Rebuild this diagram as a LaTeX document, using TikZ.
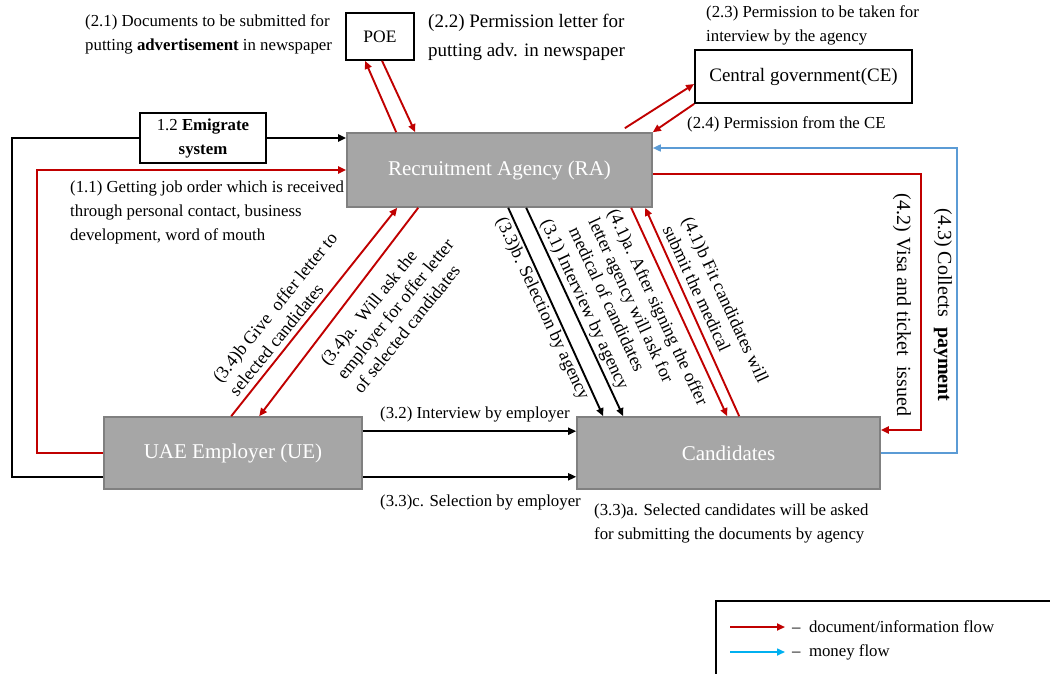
\documentclass[tikz,border=0pt]{standalone}
\usepackage{fontspec}
\setmainfont{Liberation Serif}
\usetikzlibrary{arrows.meta,calc}

\definecolor{docred}{HTML}{C00000}
\definecolor{cashblue}{HTML}{5B9BD5}
\definecolor{keyblue}{HTML}{00B0F0}
\definecolor{boxgrey}{HTML}{A6A6A6}

\begin{document}
\begin{tikzpicture}[
  x=1pt, y=-1pt,
  grey box/.style={
    draw=gray,
    fill=boxgrey,
    line width=1.6pt,
    text=white,
    font=\fontsize{21}{25}\selectfont,
    inner sep=0pt
  },
  white box/.style={
    draw,
    fill=white,
    line width=1.8pt,
    align=center,
    inner sep=0pt
  },
  note/.style={
    font=\fontsize{16.8}{24}\selectfont,
    inner sep=0pt
  },
  big note/.style={
    font=\fontsize{19}{29}\selectfont,
    inner sep=0pt
  },
  slant note/.style={
    font=\fontsize{18}{21.5}\selectfont,
    inner sep=0pt,
    align=left
  },
  side note/.style={
    font=\fontsize{20}{24}\selectfont,
    inner sep=0pt,
    rotate=-90
  },
  flow/.style={
    line width=1.9pt,
    -{Triangle[length=8pt,width=7pt]}
  },
  red flow/.style={flow, docred},
  money flow/.style={flow, cashblue, line width=1.6pt},
]
\useasboundingbox (0,0) rectangle (1050,673);

% boxes
\node[grey box, minimum width=305pt, minimum height=74pt] (ra) at (499.5,170) {Recruitment Agency (RA)};
\node[grey box, minimum width=258pt, minimum height=72pt] (ue) at (233,453) {UAE Employer (UE)};
\node[grey box, minimum width=303pt, minimum height=72pt] (cand) at (728.5,453) {Candidates};
\node[white box, minimum width=68pt, minimum height=47pt, font=\fontsize{17.5}{20}\selectfont] (poe) at (380,36.5) {POE};
\node[white box, minimum width=217pt, minimum height=53pt, font=\fontsize{19}{22}\selectfont] (ce) at (803.5,76.5) {Central government(CE)};
\node[white box, minimum width=126pt, minimum height=50pt, font=\fontsize{16.8}{24}\selectfont] (emig) at (203,138) {1.2 \textbf{Emigrate}\\\textbf{system}};

% emigrate route
\draw[line width=1.9pt] ([yshift=13pt]ue.south west) -- ++(-91,0) |- (emig.west);
\draw[flow] (emig.east) -- (emig.east -| ra.west);
\draw[red flow] (ue.west) -- ++(-66,0) |- (ra.west);

% POE and CE
\draw[red flow] ([xshift=50pt]ra.north west) -- ([xshift=20pt]poe.south west);
\draw[red flow] ([xshift=37pt]poe.south west) -- ([xshift=69pt]ra.north west);
\draw[red flow] ([xshift=-28pt,yshift=4pt]ra.north east) -- ([yshift=-7.5pt]ce.west);
\draw[red flow] (ce.south west) -- (ra.north east);

% agency <-> employer
\draw[red flow] ([xshift=128pt]ue.north west) -- ([xshift=51pt]ra.south west);
\draw[red flow] ([xshift=72pt]ra.south west) -- ([xshift=156pt]ue.north west);

% agency <-> candidates
\draw[flow] ([xshift=162pt]ra.south west) -- ([xshift=27pt]cand.north west);
\draw[flow] ([xshift=180pt]ra.south west) -- ([xshift=47pt]cand.north west);
\draw[red flow] ([xshift=285pt]ra.south west) -- ([xshift=151pt]cand.north west);
\draw[red flow] ([xshift=163pt]cand.north west) -- ([xshift=299pt]ra.south west);

% employer -> candidates
\draw[flow] ([yshift=-15pt]ue.north east) -- ([yshift=-15pt]ue.north east -| cand.west);
\draw[flow] ([yshift=13pt]ue.south east) -- ([yshift=13pt]ue.south east -| cand.west);

% visa and payment
\draw[red flow] ([yshift=-4pt]ra.east) -- ++(268,0) |- ([yshift=23pt]cand.east);
\draw[money flow] (cand.east) -- ++(76,0) |- ([yshift=22pt]ra.east);

% labels
\node[note, anchor=west, align=left] (t21) at (85,34) {(2.1) Documents to be submitted for\\putting \textbf{advertisement} in newspaper};
\node[big note, anchor=west, align=left] (t22) at (428,37) {(2.2) Permission letter for\\putting adv. in newspaper};
\node[note, anchor=west, align=left] (t23) at (706,25) {(2.3) Permission to be taken for\\interview by the agency};
\node[note, anchor=west] (t24) at (687,124) {(2.4) Permission from the CE};
\node[note, anchor=west, align=left] (t11) at (70,212) {(1.1) Getting job order which is received\\through personal contact, business\\development, word of mouth};
\node[slant note, rotate=51] (t34b) at (283,314) {(3.4)b Give\ \ offer letter to\\selected candidates};
\node[slant note, rotate=51] (t34a) at (395,309) {(3.4)a.\ \ Will ask the\\employer for offer letter\\of selected candidates};
\node[slant note, rotate=-65] (t33b) at (542,309) {(3.3)b. Selection by agency};
\node[slant note, rotate=-65] (t31) at (584,305) {(3.1) Interview by agency};
\node[slant note, rotate=-65] (t41a) at (639,316) {(4.1)a. After signing the offer\\letter agency will ask for\\medical of candidates};
\node[slant note, rotate=-65] (t41b) at (716,304) {(4.1)b Fit candidates will\\submit the medical};
\node[side note] (t42) at (902,305) {(4.2) Visa and ticket\ \ issued};
\node[side note] (t43) at (943,305) {(4.3) Collects\ \ \textbf{payment}};
\node[note, anchor=west] (t32) at (380,414) {(3.2) Interview by employer};
\node[note, anchor=west] (t33c) at (380,502) {(3.3)c. Selection by employer};
\node[note, anchor=west, align=left] (t33a) at (594,523) {(3.3)a. Selected candidates will be asked\\for submitting the documents by agency};

% key
\draw[line width=1.6pt] (716,601) rectangle (1080,700);
\coordinate (k1a) at (730,627);
\coordinate (k1b) at (785,627);
\coordinate (k2a) at (730,652);
\coordinate (k2b) at (785,652);
\draw[red flow] (k1a) -- (k1b);
\draw[flow, keyblue, line width=1.6pt] (k2a) -- (k2b);
\node[note, anchor=west] (key1) at (792,627) {--\ \ document/information flow};
\node[note, anchor=west] (key2) at (792,652) {--\ \ money flow};
\end{tikzpicture}
\end{document}
